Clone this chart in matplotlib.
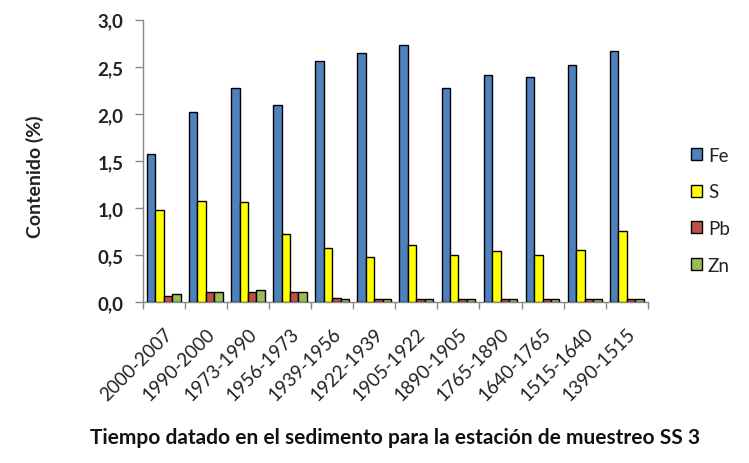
import matplotlib
matplotlib.use("Agg")
import matplotlib.pyplot as plt
import numpy as np
from matplotlib.patches import Patch
from matplotlib.ticker import FuncFormatter, FixedLocator

categories = ["2000-2007", "1990-2000", "1973-1990", "1956-1973", "1939-1956", "1922-1939",
              "1905-1922", "1890-1905", "1765-1890", "1640-1765", "1515-1640", "1390-1515"]
fe = [1.57, 2.02, 2.28, 2.09, 2.56, 2.65, 2.73, 2.28, 2.41, 2.39, 2.52, 2.67]
s = [0.98, 1.08, 1.06, 0.73, 0.58, 0.48, 0.61, 0.50, 0.54, 0.50, 0.56, 0.76]
pb = [0.07, 0.11, 0.11, 0.11, 0.05, 0.03, 0.03, 0.03, 0.03, 0.03, 0.03, 0.03]
zn = [0.09, 0.11, 0.13, 0.11, 0.04, 0.03, 0.03, 0.03, 0.03, 0.03, 0.03, 0.03]
series_names = ["Fe", "S", "Pb", "Zn"]
colors = ["#4F81BD", "#FFFF00", "#C0504D", "#9BBB59"]

plt.rcParams['font.family'] = ['Lato', 'DejaVu Sans']

fig = plt.figure(figsize=(7.49, 4.64), dpi=100)
ax = fig.add_axes([0.1905, 0.3463, 0.865 - 0.1905, 0.9554 - 0.3463])

x = np.arange(len(categories))
w = 0.2
for i, (vals, c) in enumerate(zip([fe, s, pb, zn], colors)):
    ax.bar(x + (i - 1.5) * w, vals, width=w, color=c, edgecolor="black", linewidth=1.0, zorder=3)

ax.set_xlim(-0.5, len(categories) - 0.5)
ax.set_ylim(0, 3.0)
ax.set_yticks(np.arange(0, 3.01, 0.5))
ax.yaxis.set_major_formatter(FuncFormatter(lambda v, p: f"{v:.1f}".replace(".", ",")))
for t in ax.get_yticklabels():
    t.set_fontweight("bold")
    t.set_fontsize(13.5)
    t.set_color("#222222")

ax.set_xticks(x)
ax.set_xticklabels(categories, rotation=45, ha="right", rotation_mode="anchor", fontsize=13.5, color="#222222")
ax.xaxis.set_minor_locator(FixedLocator(np.arange(-0.5, len(categories), 1.0)))
ax.tick_params(axis="x", which="major", length=0, pad=16)
ax.tick_params(axis="x", which="minor", length=5, color="#888888", width=1)
ax.tick_params(axis="y", length=6, color="#888888", width=1, pad=8)

for sp in ["top", "right"]:
    ax.spines[sp].set_visible(False)
for sp in ["left", "bottom"]:
    ax.spines[sp].set_color("#888888")
    ax.spines[sp].set_linewidth(1)

fig.text(0.047, 0.62, "Contenido (%)", rotation=90, ha="center", va="center",
         fontsize=14, fontweight="bold", color="#222222")
fig.text(0.527, 0.055, "Tiempo datado en el sedimento para la estación de muestreo SS 3",
         ha="center", va="center", fontsize=15, fontweight="bold", color="#111111")

handles = [Patch(facecolor=c, edgecolor="black", linewidth=1) for c in colors]
leg = fig.legend(handles, series_names, loc="center left", bbox_to_anchor=(0.9, 0.545),
                 frameon=False, fontsize=13.5, labelspacing=1.05, handlelength=0.6,
                 handleheight=0.6, handletextpad=0.3)
for t in leg.get_texts():
    t.set_color("#222222")

fig.savefig("out.png", dpi=100)
